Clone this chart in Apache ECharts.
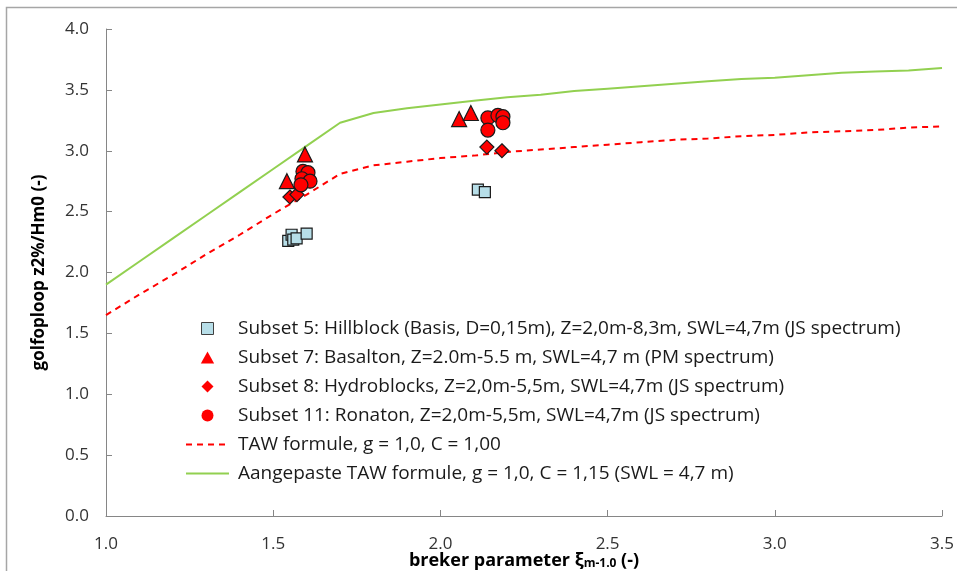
<!DOCTYPE html>
<html>
<head>
<meta charset="utf-8">
<script src="https://cdn.jsdelivr.net/npm/echarts@6/dist/echarts.min.js"></script>
<style>
  html, body { margin: 0; padding: 0; background: #fff; }
  #chart { width: 957px; height: 571px; }
</style>
</head>
<body>
<div id="chart"></div>
<script>
// Measured run-up per subset: [breaker parameter, z2%/Hm0]
var subset5 = [[1.545, 2.26], [1.555, 2.31], [1.560, 2.27], [1.570, 2.28], [1.600, 2.32], [2.112, 2.68], [2.133, 2.66]];
var subset7 = [[1.541, 2.75], [1.595, 2.97], [2.056, 3.26], [2.091, 3.31]];
var subset8 = [[1.550, 2.62], [1.571, 2.64], [2.139, 3.03], [2.184, 3.00]];
var subset11 = [[1.589, 2.83], [1.604, 2.82], [1.586, 2.77], [1.610, 2.75], [1.583, 2.72],
                [2.142, 3.27], [2.172, 3.29], [2.187, 3.28], [2.142, 3.17], [2.187, 3.23]];

// Design curves sampled along the breaker parameter
var xiSteps = [1.0, 1.1, 1.2, 1.3, 1.4, 1.5, 1.6, 1.7, 1.8, 1.9, 2.0, 2.1, 2.2, 2.3, 2.4, 2.5,
               2.6, 2.7, 2.8, 2.9, 3.0, 3.1, 3.2, 3.3, 3.4, 3.5];
var tawValues = [1.65, 1.82, 1.98, 2.15, 2.31, 2.48, 2.64, 2.81, 2.88, 2.91, 2.94, 2.96, 2.99,
                 3.01, 3.03, 3.05, 3.07, 3.09, 3.10, 3.12, 3.13, 3.15, 3.16, 3.17, 3.19, 3.20];
var tawAdjustedValues = [1.90, 2.09, 2.28, 2.47, 2.66, 2.85, 3.04, 3.23, 3.31, 3.35, 3.38, 3.41, 3.44,
                         3.46, 3.49, 3.51, 3.53, 3.55, 3.57, 3.59, 3.60, 3.62, 3.64, 3.65, 3.66, 3.68];

var seriesNames = [
  'Subset 5: Hillblock (Basis, D=0,15m), Z=2,0m-8,3m, SWL=4,7m (JS spectrum)',
  'Subset 7: Basalton, Z=2.0m-5.5 m, SWL=4,7 m (PM spectrum)',
  'Subset 8: Hydroblocks, Z=2,0m-5,5m, SWL=4,7m (JS spectrum)',
  'Subset 11: Ronaton, Z=2,0m-5,5m, SWL=4,7m (JS spectrum)',
  'TAW formule, g = 1,0, C = 1,00',
  'Aangepaste TAW formule, g = 1,0, C = 1,15 (SWL = 4,7 m)'
];

function zip(xs, ys) {
  return xs.map(function (x, i) { return [x, ys[i]]; });
}

var FONT = 'Open Sans';
var chart = echarts.init(document.getElementById('chart'), null, { renderer: 'canvas' });

var axisLine = { show: true, lineStyle: { color: '#868686', width: 1 } };

// Square-aspect legend glyphs
var ICON_SQUARE = 'path://M0,0L10,0L10,10L0,10Z';
var ICON_TRIANGLE = 'path://M5,0L10,9L0,9Z';
var ICON_DIAMOND = 'path://M5,0L10,5L5,10L0,5Z';

chart.setOption({
  animation: false,
  backgroundColor: '#ffffff',
  textStyle: { fontFamily: FONT },
  graphic: [{
    type: 'rect',
    shape: { x: 6.5, y: 7.5, width: 1000, height: 1000 },
    style: { fill: 'none', stroke: '#a6a6a6', lineWidth: 1.5 },
    silent: true,
    z: -10
  }],
  grid: { left: 106, right: 15, top: 29, bottom: 55, containLabel: false, outerBoundsMode: 'none' },
  xAxis: {
    type: 'value', min: 1.0, max: 3.5, interval: 0.5,
    axisLine: axisLine,
    axisTick: { show: true, inside: true, length: 6, lineStyle: { color: '#868686' } },
    splitLine: { show: false },
    axisLabel: {
      margin: 20, color: '#333', fontSize: 17, fontFamily: FONT,
      formatter: function (v) { return v.toFixed(1); }
    },
    name: '{b|breker parameter ξ}{s|m-1.0}{b| (-)}',
    nameLocation: 'middle', nameGap: 36, nameMoveOverlap: false,
    nameTextStyle: {
      rich: {
        b: { fontSize: 18, fontWeight: 'bold', color: '#000', fontFamily: FONT },
        s: { fontSize: 12, fontWeight: 'bold', color: '#000', fontFamily: FONT, padding: [6, 0, 0, 0] }
      }
    }
  },
  yAxis: {
    type: 'value', min: 0, max: 4.0, interval: 0.5,
    axisLine: axisLine,
    axisTick: { show: true, inside: true, length: 6, lineStyle: { color: '#868686' } },
    splitLine: { show: false },
    axisLabel: {
      margin: 17, color: '#333', fontSize: 17, fontFamily: FONT,
      formatter: function (v) { return v.toFixed(1); }
    },
    name: 'golfoploop z2%/Hm0 (-)',
    nameLocation: 'middle', nameGap: 58, nameRotate: 90, nameMoveOverlap: false,
    nameTextStyle: { fontSize: 17, fontWeight: 'bold', color: '#000', fontFamily: FONT }
  },
  legend: {
    orient: 'vertical', left: 185, top: 317, padding: 0,
    itemWidth: 43, itemHeight: 12, itemGap: 6,
    symbolKeepAspect: true,
    textStyle: { fontSize: 19, color: '#1a1a1a', fontFamily: FONT, padding: [0, 0, 0, 4], lineHeight: 23 },
    data: [
      { name: seriesNames[0], icon: ICON_SQUARE, itemStyle: { color: '#B7DEE8', borderColor: '#404040', borderWidth: 1 } },
      { name: seriesNames[1], icon: ICON_TRIANGLE, itemStyle: { color: '#FF0000', borderWidth: 0 } },
      { name: seriesNames[2], icon: ICON_DIAMOND, itemStyle: { color: '#FF0000', borderWidth: 0 } },
      { name: seriesNames[3], icon: 'circle', itemStyle: { color: '#FF0000', borderWidth: 0 } },
      { name: seriesNames[4], itemStyle: { opacity: 0 } },
      { name: seriesNames[5], itemStyle: { opacity: 0 } }
    ]
  },
  series: [
    {
      name: seriesNames[4], type: 'line', data: zip(xiSteps, tawValues),
      showSymbol: false, symbol: 'none', z: 2,
      lineStyle: { color: '#FF0000', width: 2, type: [6, 5] },
      itemStyle: { color: '#FF0000' }
    },
    {
      name: seriesNames[5], type: 'line', data: zip(xiSteps, tawAdjustedValues),
      showSymbol: false, symbol: 'none', z: 2,
      lineStyle: { color: '#92D050', width: 2 },
      itemStyle: { color: '#92D050' }
    },
    {
      name: seriesNames[0], type: 'scatter', data: subset5, symbol: 'rect', symbolSize: 11, z: 3,
      itemStyle: { color: '#B7DEE8', borderColor: '#1a1a1a', borderWidth: 1.2, opacity: 1 }
    },
    {
      name: seriesNames[1], type: 'scatter', data: subset7, symbol: 'triangle', symbolSize: 15, z: 3,
      itemStyle: { color: '#FF0000', borderColor: '#1a1a1a', borderWidth: 1.2, opacity: 1 }
    },
    {
      name: seriesNames[2], type: 'scatter', data: subset8, symbol: 'diamond', symbolSize: 14, z: 3,
      itemStyle: { color: '#FF0000', borderColor: '#1a1a1a', borderWidth: 1.2, opacity: 1 }
    },
    {
      name: seriesNames[3], type: 'scatter', data: subset11, symbol: 'circle', symbolSize: 14, z: 3,
      itemStyle: { color: '#FF0000', borderColor: '#1a1a1a', borderWidth: 1.2, opacity: 1 }
    }
  ]
});
</script>
</body>
</html>
